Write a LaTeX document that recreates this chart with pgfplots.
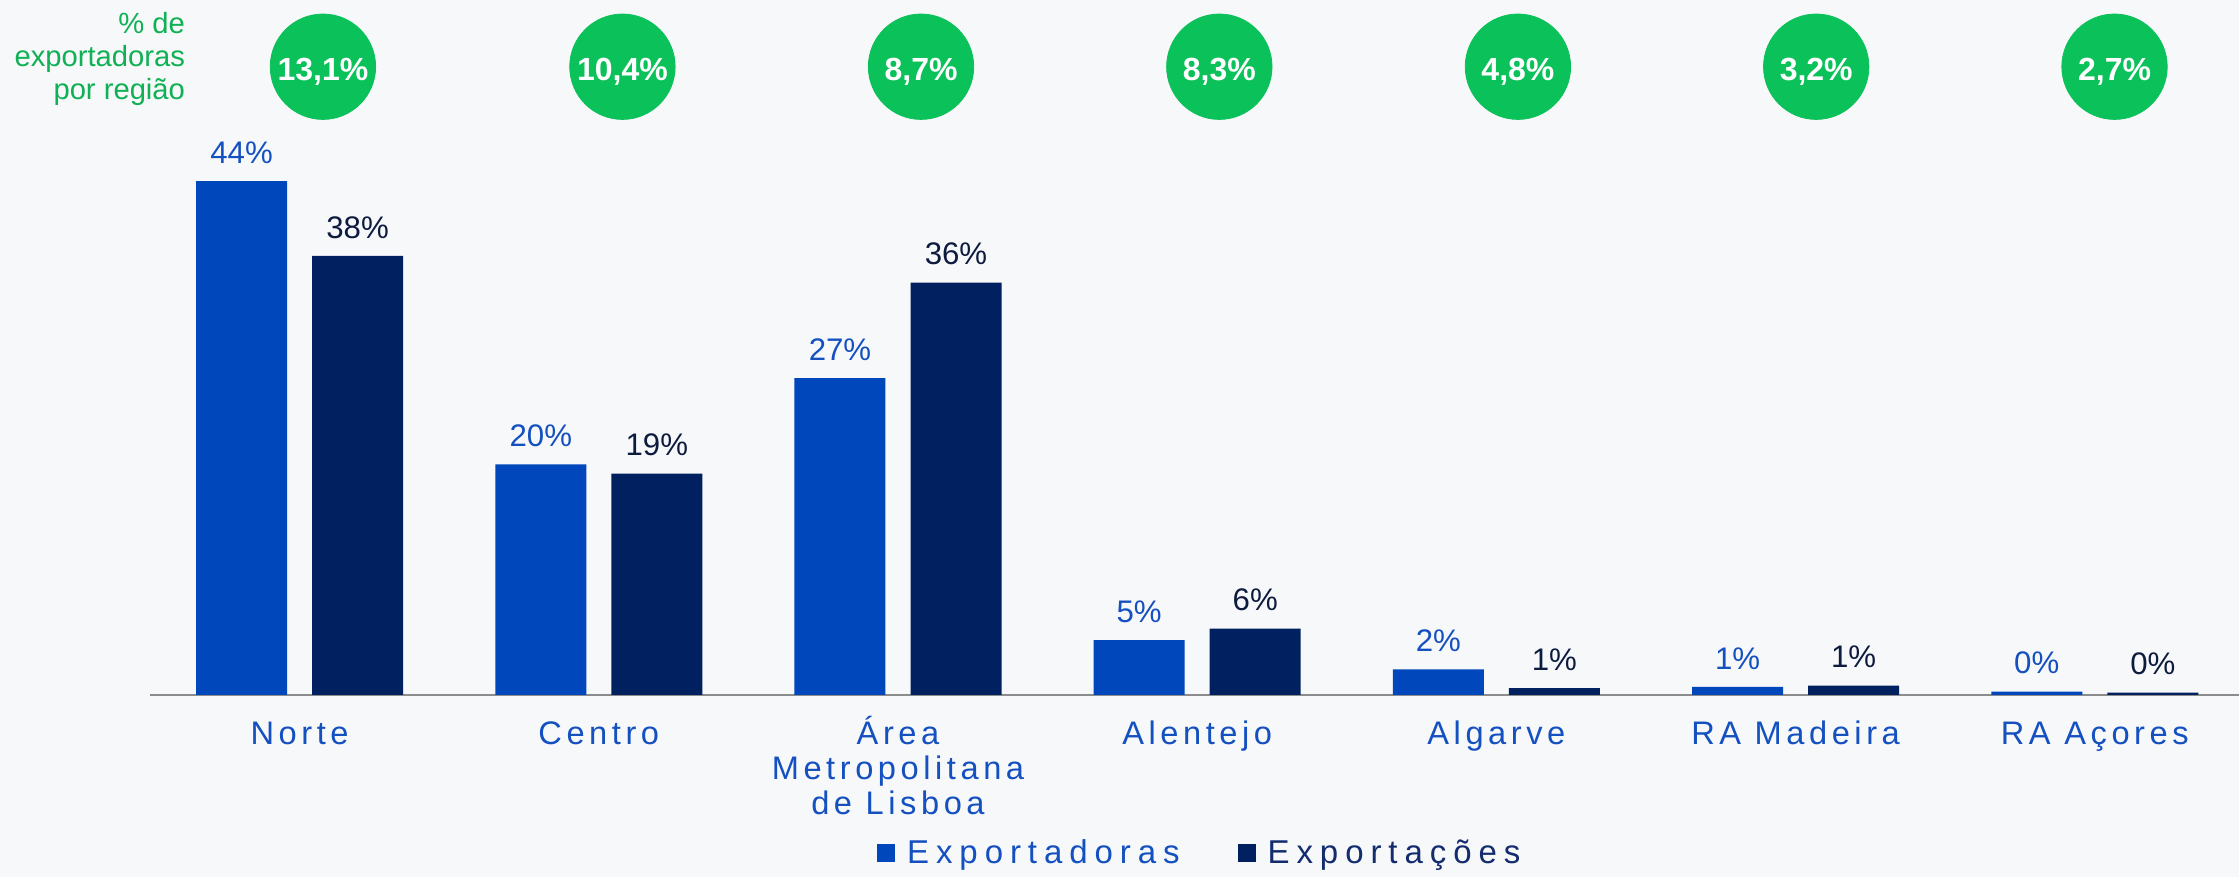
\documentclass[border=0pt]{standalone}
\usepackage{pgfplots}
\pgfplotsset{compat=1.18}
\usepackage{fontspec}
\setmainfont{Liberation Sans}
\newfontfamily\catfont{Liberation Sans}[LetterSpace=14]
\newfontfamily\legfont{Liberation Sans}[LetterSpace=21]
\definecolor{bgc}{HTML}{F7F8FA}
\definecolor{cblue}{HTML}{0047BB}
\definecolor{cdark}{HTML}{002060}
\definecolor{cgreen}{HTML}{0BC15A}
\definecolor{tgreen}{HTML}{10B055}
\definecolor{tblue}{HTML}{1450C0}
\definecolor{tdark}{HTML}{0D1B3E}
\definecolor{tlegdark}{HTML}{132C6E}
\definecolor{axgray}{HTML}{8C8C8C}
\begin{document}
\begin{tikzpicture}
\fill[bgc] (0,0) rectangle (1119.5pt,438.5pt);
\path[use as bounding box] (0,0) rectangle (1119.5pt,438.5pt);
\node[anchor=base east, inner sep=0pt, text=tgreen, font=\fontsize{14.6}{17}\selectfont] at (92.7pt,421.5pt) {\% de};
\node[anchor=base east, inner sep=0pt, text=tgreen, font=\fontsize{14.6}{17}\selectfont] at (92.7pt,405.0pt) {exportadoras};
\node[anchor=base east, inner sep=0pt, text=tgreen, font=\fontsize{14.6}{17}\selectfont] at (92.7pt,388.5pt) {por região};
\begin{axis}[
  at={(75pt,91pt)}, anchor=south west, scale only axis,
  width=1044.5pt, height=291.25pt,
  xmin=-0.5, xmax=6.482, ymin=0, ymax=50,
  clip=false,
  axis y line=none, axis x line=bottom,
  x axis line style={-, draw=axgray, line width=1.2pt},
  xtick={0,...,6}, ytick=\empty, major tick length=0pt,
  xticklabels={
    {\begin{tabular}[t]{@{}c@{}}Norte\end{tabular}},
    {\begin{tabular}[t]{@{}c@{}}Centro\end{tabular}},
    {\begin{tabular}[t]{@{}c@{}}Área\\Metropolitana\\de Lisboa\end{tabular}},
    {\begin{tabular}[t]{@{}c@{}}Alentejo\end{tabular}},
    {\begin{tabular}[t]{@{}c@{}}Algarve\end{tabular}},
    {\begin{tabular}[t]{@{}c@{}}RA Madeira\end{tabular}},
    {\begin{tabular}[t]{@{}c@{}}RA Açores\end{tabular}}},
  xticklabel style={anchor=base, yshift=-25pt, inner sep=0pt, font=\catfont\fontsize{16.3}{17.5}\selectfont, text=tblue},
  legend style={at={(0.503,-0.271)}, anchor=center, draw=none, fill=none,
    legend columns=2, font=\legfont\fontsize{16.5}{18}\selectfont,
    /tikz/every even column/.append style={column sep=27pt}},
  legend image code/.code={\fill (0pt,-4.5pt) rectangle (9pt,4.5pt); \path (13pt,0pt);},
  point meta=explicit symbolic,
]
\addplot[ybar, bar width=45.5pt, bar shift=0pt, fill=cblue, draw=none,
  nodes near coords={\pgfplotspointmeta\%},
  every node near coord/.append style={anchor=base, yshift=8.85pt, font=\fontsize{15.6}{18}\selectfont, text=tblue}]
  coordinates {(-0.1939,44.1) [44] (0.8061,19.8) [20] (1.8061,27.2) [27] (2.8061,4.7) [5] (3.8061,2.2) [2] (4.8061,0.7) [1] (5.8061,0.3) [0]};
\addlegendentry{\textcolor{tblue}{Exportadoras}}
\addplot[ybar, bar width=45.5pt, bar shift=0pt, fill=cdark, draw=none,
  nodes near coords={\pgfplotspointmeta\%},
  every node near coord/.append style={anchor=base, yshift=8.85pt, font=\fontsize{15.6}{18}\selectfont, text=tdark}]
  coordinates {(0.1939,37.7) [38] (1.1939,19.0) [19] (2.1939,35.4) [36] (3.1939,5.7) [6] (4.1939,0.6) [1] (5.1939,0.8) [1] (6.1939,0.2) [0]};
\addlegendentry{\textcolor{tlegdark}{Exportações}}
\addplot[only marks, mark=*, mark size=26.35pt, color=cgreen, mark options={fill=cgreen, draw=none},
  nodes near coords={\pgfplotspointmeta\%},
  every node near coord/.append style={anchor=base, yshift=-7pt, font=\bfseries\fontsize{16}{18}\selectfont, text=white},
  forget plot]
  coordinates {(0.078,53.93) [13,1] (1.079,53.93) [10,4] (2.077,53.93) [8,7] (3.074,53.93) [8,3] (4.072,53.93) [4,8] (5.069,53.93) [3,2] (6.066,53.93) [2,7]};
\end{axis}
\end{tikzpicture}
\end{document}
